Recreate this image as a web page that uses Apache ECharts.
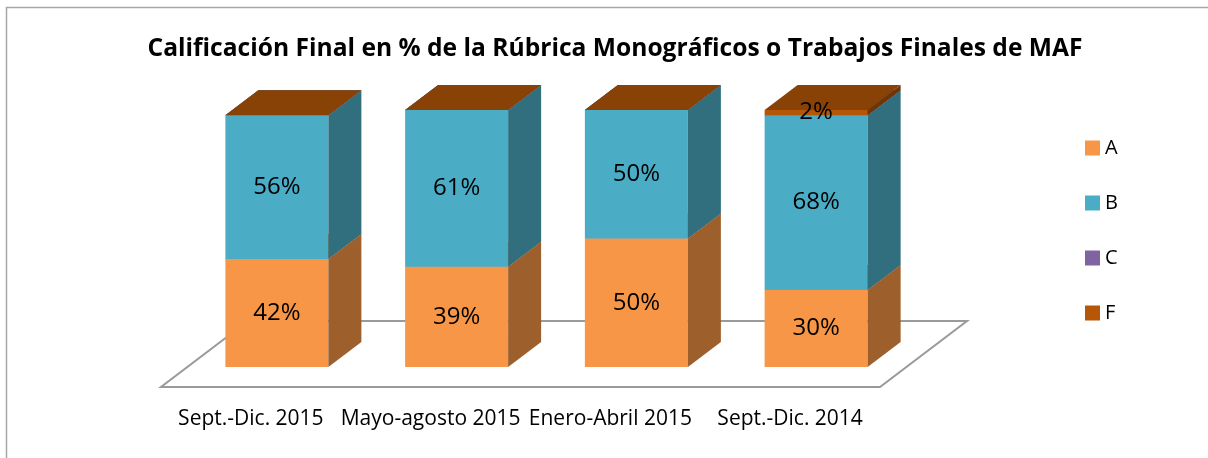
<!DOCTYPE html>
<html>
<head>
<meta charset="utf-8">
<script src="https://cdn.jsdelivr.net/npm/echarts@6/dist/echarts.min.js"></script>
<style>
  html, body { margin: 0; padding: 0; background: #fff; }
  #chart { width: 1208px; height: 458px; }
</style>
</head>
<body>
<div id="chart"></div>
<script>
// data
const periods = ["Sept.-Dic. 2015", "Mayo-agosto 2015", "Enero-Abril 2015", "Sept.-Dic. 2014"];
const gradeA = [42, 39, 50, 30];
const gradeB = [56, 61, 50, 68];
const gradeC = [0, 0, 0, 0];
const gradeF = [0, 0, 0, 2];

const grades = [
  { name: "A", values: gradeA, front: "#f79646", side: "#9d5f2c", top: "#c47636" },
  { name: "B", values: gradeB, front: "#4bacc6", side: "#316f7f", top: "#3a8a9f" },
  { name: "C", values: gradeC, front: "#8064a2", side: "#54416b", top: "#654f82" },
  { name: "F", values: gradeF, front: "#b65708", side: "#6f3505", top: "#894206" },
];

// 3d look
const DEPTH_X = 33, DEPTH_Y = 25;   // bar depth
const BAR_SHIFT = 26;               // bar front plane vs floor front
const BAR_W = 103;
const FLOOR_DROP = 20, FLOOR_DX = 87, FLOOR_DY = 66;

const chart = echarts.init(document.getElementById("chart"));

function boxRenderer(g) {
  return function (params, api) {
    const cat = api.value(0);
    const lo = api.coord([cat, api.value(1)]);
    const hi = api.coord([cat, api.value(2)]);
    const x0 = lo[0] + BAR_SHIFT - BAR_W / 2;
    const x1 = x0 + BAR_W;
    const yLo = lo[1], yHi = hi[1];
    const children = [
      { type: "polygon", shape: { points: [[x0, yHi], [x1, yHi], [x1, yLo], [x0, yLo]] },
        style: { fill: g.front } },
      { type: "polygon", shape: { points: [[x1, yHi], [x1 + DEPTH_X, yHi - DEPTH_Y], [x1 + DEPTH_X, yLo - DEPTH_Y], [x1, yLo]] },
        style: { fill: g.side } },
      { type: "polygon", shape: { points: [[x0, yHi], [x1, yHi], [x1 + DEPTH_X, yHi - DEPTH_Y], [x0 + DEPTH_X, yHi - DEPTH_Y]] },
        style: { fill: g.top } },
    ];
    const v = api.value(3);
    if (v > 0) {
      children.push({
        type: "text",
        style: {
          x: (x0 + x1) / 2, y: (yLo + yHi) / 2, text: v + "%",
          align: "center", verticalAlign: "middle",
          fontFamily: "Open Sans", fontSize: 24, fill: "#000",
        },
        z2: 10,
      });
    }
    return { type: "group", children: children };
  };
}

const stackBase = periods.map(() => 0);
const boxSeries = grades.map((g) => {
  const data = g.values.map((v, i) => {
    const row = [i, stackBase[i], stackBase[i] + v, v];
    stackBase[i] += v;
    return row;
  });
  return {
    name: g.name,
    type: "custom",
    itemStyle: { color: g.front },
    renderItem: boxRenderer(g),
    data: data,
    z: 3,
  };
});

const floorSeries = {
  name: "floor",
  type: "custom",
  silent: true,
  z: 1,
  data: [[0, 0]],
  renderItem: function (params, api) {
    const cs = params.coordSys;
    const yF = cs.y + cs.height + FLOOR_DROP;
    const xL = cs.x, xR = cs.x + cs.width;
    return {
      type: "polygon",
      shape: { points: [[xL, yF], [xR, yF], [xR + FLOOR_DX, yF - FLOOR_DY], [xL + FLOOR_DX, yF - FLOOR_DY]] },
      style: { fill: "#fff", stroke: "#9a9a9a", lineWidth: 2 },
    };
  },
};

chart.setOption({
  animation: false,
  backgroundColor: "#fff",
  graphic: [{
    type: "rect",
    shape: { x: 6.5, y: 7.5, width: 1400, height: 600 },
    style: { fill: "none", stroke: "#a6a6a6", lineWidth: 1.5 },
    silent: true,
  }],
  title: {
    text: "Calificación Final en % de la Rúbrica Monográficos o Trabajos Finales de MAF",
    left: 610,
    textAlign: "center",
    top: 31,
    textStyle: { fontFamily: "Open Sans", fontWeight: "bold", fontSize: 24.6, color: "#000" },
  },
  legend: {
    data: grades.map((g) => g.name),
    orient: "vertical",
    left: 1080,
    top: 132,
    icon: "rect",
    itemWidth: 15,
    itemHeight: 15,
    itemGap: 33,
    textStyle: { fontFamily: "Open Sans", fontSize: 20, color: "#000", lineHeight: 22 },
  },
  grid: { left: 161, right: 328, top: 110, bottom: 91 },
  xAxis: {
    type: "category",
    data: periods,
    axisLine: { show: false },
    axisTick: { show: false },
    axisLabel: { interval: 0, margin: 42, fontFamily: "Open Sans", fontSize: 21, color: "#000" },
  },
  yAxis: { type: "value", min: 0, max: 100, show: false },
  series: [floorSeries].concat(boxSeries),
});
</script>
</body>
</html>
